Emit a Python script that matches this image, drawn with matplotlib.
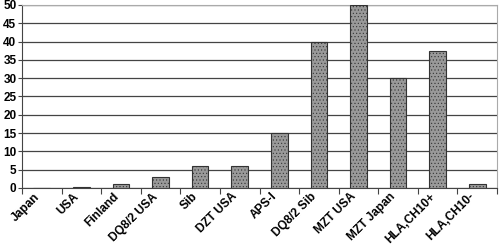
import matplotlib
matplotlib.use('Agg')
from matplotlib import pyplot as plt
import matplotlib.transforms as mtransforms
import numpy as np

categories = ['Japan', 'USA', 'Finland', 'DQ8/2 USA', 'Sib', 'DZT USA', 'APS-I',
              'DQ8/2 Sib', 'MZT USA', 'MZT Japan', 'HLA,CH10+', 'HLA,CH10-']
values = [0, 0.4, 1, 3, 6, 6, 15, 40, 50, 30, 37.5, 1]
yticks = [0, 5, 10, 15, 20, 25, 30, 35, 40, 45, 50]

plt.rcParams['font.family'] = ['Liberation Sans', 'DejaVu Sans']
plt.rcParams['font.weight'] = 'bold'
plt.rcParams['hatch.color'] = '#b0b0b0'
plt.rcParams['hatch.linewidth'] = 0.4

fig = plt.figure(figsize=(5, 2.47), dpi=100)
ax = fig.add_axes([0.044, 0.239, 0.95, 0.741])

x = np.arange(len(categories))
ax.bar(x, values, width=0.42, color='#999999', edgecolor='#333333', linewidth=0.8,
       hatch='.....', zorder=3)

ax.set_xlim(-0.5, len(categories) - 0.5)
ax.set_ylim(0, 50)
ax.set_yticks(yticks)
ax.set_yticklabels([str(t) for t in yticks], fontsize=8.5, fontweight='bold')
ax.yaxis.grid(True, color='#444444', linewidth=0.9, zorder=0)

ax.set_xticks(np.arange(len(categories) + 1) - 0.5)
ax.set_xticklabels([])
ax.set_xticks(x, minor=True)
ax.set_xticklabels(categories, minor=True, rotation=45, ha='right', va='center',
                   rotation_mode='anchor', fontsize=8.6, fontweight='bold')
ax.tick_params(axis='x', which='minor', length=0, pad=5)
ax.tick_params(axis='x', which='major', length=4, direction='out', color='#444444')
ax.tick_params(axis='y', length=3, direction='out', pad=1, color='#444444')

# nudge category labels a little to the left
shift = mtransforms.ScaledTranslation(-3 / 72, 0, fig.dpi_scale_trans)
for lbl in ax.get_xticklabels(minor=True):
    lbl.set_transform(lbl.get_transform() + shift)

for s in ['top', 'right']:
    ax.spines[s].set_color('#aaaaaa')
for s in ['left', 'bottom']:
    ax.spines[s].set_color('#444444')

fig.savefig('out.png', dpi=100)
